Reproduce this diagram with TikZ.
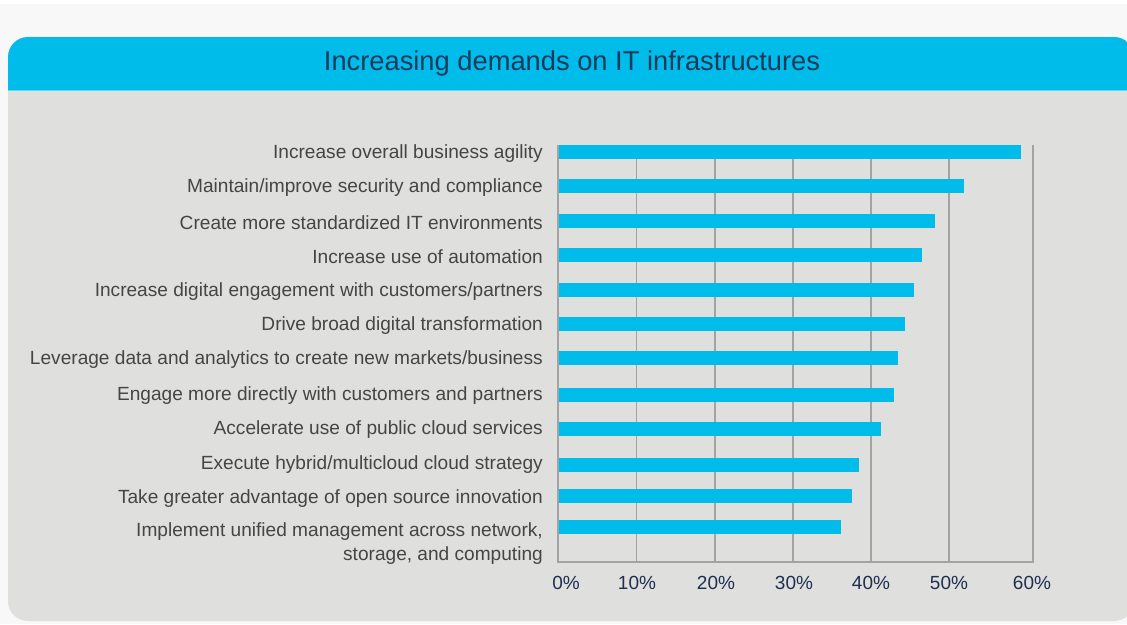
\documentclass[tikz,border=0pt]{standalone}
\usepackage{fontspec}
\setmainfont{Liberation Sans}
\definecolor{ciscoblue}{HTML}{00BCEB}
\definecolor{panelgray}{HTML}{DFDFDD}
\definecolor{outerbg}{HTML}{F8F8F8}
\definecolor{gridgray}{HTML}{A3A3A3}
\definecolor{labeltext}{HTML}{454545}
\definecolor{navytext}{HTML}{1E3050}
\definecolor{titletext}{HTML}{1B3A5C}
\tikzset{
  barlabel/.style={anchor=east, inner sep=0pt, text=labeltext, font=\fontsize{19.1}{23.5}\selectfont, align=right},
  ticklabel/.style={anchor=center, inner sep=0pt, text=navytext, font=\fontsize{19}{22}\selectfont},
  gridline/.style={draw=gridgray, line width=1.5pt},
  barfill/.style={fill=ciscoblue, draw=none},
}
\begin{document}
\begin{tikzpicture}[x=1pt,y=-1pt]
\useasboundingbox (0,0) rectangle (1127,624);
\clip (0,0) rectangle (1127,624);
\fill[outerbg] (0,4) rectangle (1127,624);
\fill[white] (0,0) rectangle (1127,4);
% panel
\fill[panelgray, rounded corners=20pt] (8,37) rectangle (1134,621);
\begin{scope}
\clip[rounded corners=20pt] (8,37) rectangle (1134,621);
\fill[ciscoblue] (8,37) rectangle (1134,90);
\draw[color=ciscoblue!60!white, line width=1pt] (8,90) -- (1134,90);
\end{scope}
\node[inner sep=0pt, text=titletext, font=\fontsize{27.3}{32}\selectfont] (title) at (572,63.5) {Increasing demands on IT infrastructures};
% grid lines
\foreach \gx/\nm in {636.5/g1, 714.8/g2, 793/g3, 871/g4, 949/g5} {
  \draw[gridline] (\gx,145) -- (\gx,562);
}
% axes frame
\draw[gridline] (558,145) -- (558,562) -- (1033,562) -- (1033,145);
% bars
\foreach \yc/\xe in {152/1021, 186/964, 221/935, 255/922, 290/914, 324/905, 358/898, 395/894, 429/881, 465/859, 496/852, 527/841} {
  \fill[barfill] (558.75,\yc-7) rectangle (\xe,\yc+7);
}
% labels
\node[barlabel] (l1) at (543,154) {Increase overall business agility};
\node[barlabel] (l2) at (543,188) {Maintain/improve security and compliance};
\node[barlabel] (l3) at (543,222.5) {Create more standardized IT environments};
\node[barlabel] (l4) at (543,257) {Increase use of automation};
\node[barlabel] (l5) at (543,291.5) {Increase digital engagement with customers/partners};
\node[barlabel] (l6) at (543,326) {Drive broad digital transformation};
\node[barlabel] (l7) at (543,360) {Leverage data and analytics to create new markets/business};
\node[barlabel] (l8) at (543,395.5) {Engage more directly with customers and partners};
\node[barlabel] (l9) at (543,430) {Accelerate use of public cloud services};
\node[barlabel] (l10) at (543,465) {Execute hybrid/multicloud cloud strategy};
\node[barlabel] (l11) at (543,498.5) {Take greater advantage of open source innovation};
\node[barlabel] (l12) at (543,543.5) {Implement unified management across network,\\storage, and computing};
% tick labels
\node[ticklabel] (t0) at (566,582.5) {0\%};
\node[ticklabel] (t10) at (637,582.5) {10\%};
\node[ticklabel] (t20) at (716,582.5) {20\%};
\node[ticklabel] (t30) at (794,582.5) {30\%};
\node[ticklabel] (t40) at (871,582.5) {40\%};
\node[ticklabel] (t50) at (949,582.5) {50\%};
\node[ticklabel] (t60) at (1032,582.5) {60\%};
\end{tikzpicture}
\end{document}
